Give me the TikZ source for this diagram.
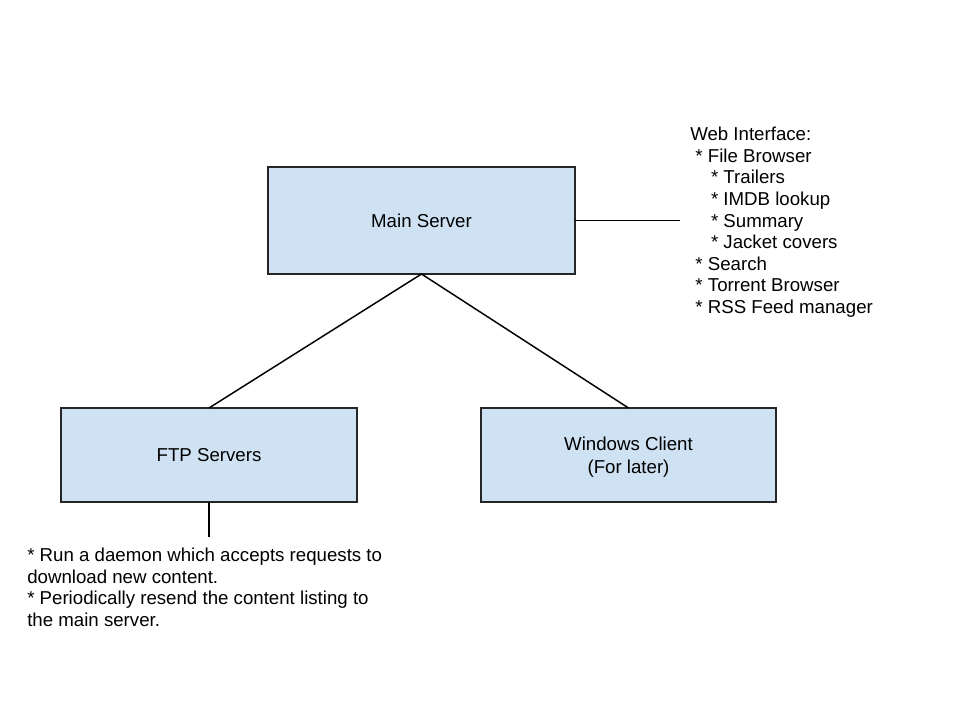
\documentclass[tikz,border=0pt]{standalone}
\usepackage{fontspec}
\setmainfont{Liberation Sans}
\begin{document}
\begin{tikzpicture}[x=0.75pt,y=-0.75pt,
  fnt/.style={font=\fontsize{14pt}{16.2pt}\selectfont},
  box/.style={draw=black!85,line width=1.4pt,fill=boxblue,inner sep=0pt,outer sep=0pt,anchor=north west},
  txt/.style={fnt,align=left,inner sep=0pt,anchor=north west},
  lnk/.style={draw=black,line width=1.1pt}]
\definecolor{boxblue}{HTML}{CFE2F3}
\useasboundingbox[fill=white] (0,0) rectangle (960,720);
\node[box,minimum width=230.25pt,minimum height=80.25pt] (main) at (268,167) {};
\node[fnt] (mainlbl) at (main.center) {Main Server};
\node[box,minimum width=222pt,minimum height=70.5pt] (ftp) at (61,408) {};
\node[fnt] (ftplbl) at (ftp.center) {FTP Servers};
\node[box,minimum width=221.25pt,minimum height=70.5pt] (win) at (481,408) {};
\node[font=\fontsize{14pt}{16.8pt}\selectfont,align=center] (winlbl) at ([yshift=-1.5]win.center) {Windows Client\\(For later)};
\node[txt] (web) at (690,127) {Web Interface:\\
\ * File Browser\\
\ \ \ \ * Trailers\\
\ \ \ \ * IMDB lookup\\
\ \ \ \ * Summary\\
\ \ \ \ * Jacket covers\\
\ * Search\\
\ * Torrent Browser\\
\ * RSS Feed manager};
\node[txt] (ftpnote) at (27,548) {* Run a daemon which accepts requests to\\
download new content.\\
* Periodically resend the content listing to\\
the main server.};
\draw[lnk] (main.east) -- ++(105,0) coordinate (webend);
\draw[lnk] (main.south) -- (ftp.north);
\draw[lnk] (main.south) -- (win.north);
\draw[lnk] (ftp.south) -- ++(0,35) coordinate (ftpend);
\end{tikzpicture}
\end{document}
